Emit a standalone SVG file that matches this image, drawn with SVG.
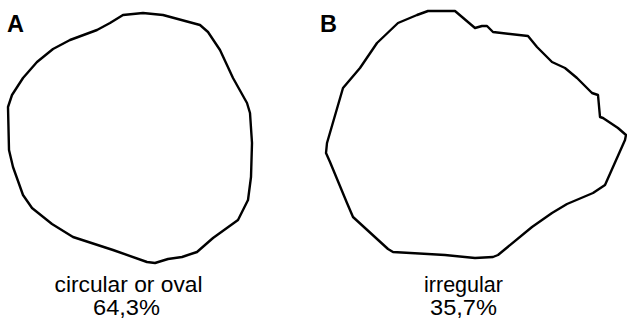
<svg xmlns="http://www.w3.org/2000/svg" width="627" height="321" viewBox="0 0 627 321">
<style>
.cell{fill:none;stroke:#000;stroke-width:2.4;stroke-linejoin:round;stroke-linecap:round}
.lab{font-family:"Liberation Sans",Arial,sans-serif;font-weight:bold;font-size:23.5px;fill:#000}
.cap{font-family:"Liberation Sans",Arial,sans-serif;font-size:21.5px;fill:#000;text-anchor:middle}
</style>
<rect width="627" height="321" fill="#fff"/>
<g id="panelA">
<text class="lab" x="7" y="32">A</text>
<polygon class="cell" points="123,15 143,13 163,15 200,25 208,32 220,50 233,78 247,103 250,113 252,143 251,177 248,200 238,220 213,238 197,252 182,257 168,259 155,263 147,262 113,250 73,237 52,224 32,208 23,195 13,167 9,150 8,107 12,95 23,78 37,62 53,49 70,40 97,30 110,23"/>
<text class="cap" x="128.5" y="292" textLength="148" lengthAdjust="spacingAndGlyphs">circular or oval</text>
<text class="cap" x="126.5" y="315" textLength="67" lengthAdjust="spacingAndGlyphs">64,3%</text>
</g>
<g id="panelB">
<text class="lab" x="320" y="32">B</text>
<polygon class="cell" points="428,11 455,11 475,28 482,26 487,26 493,32 528,36 537,47 552,62 565,68 577,78 592,93 598,95 600,117 603,118 618,128 626,135 625,140 605,185 593,193 567,204 552,213 532,227 498,255 493,257 475,258 445,255 393,252 388,249 353,217 347,203 330,162 326,153 327,143 343,88 360,68 377,43 398,23 417,15"/>
<text class="cap" x="463.5" y="292" textLength="79" lengthAdjust="spacingAndGlyphs">irregular</text>
<text class="cap" x="463.5" y="315" textLength="67" lengthAdjust="spacingAndGlyphs">35,7%</text>
</g>
<g id="connectors"/>
</svg>
